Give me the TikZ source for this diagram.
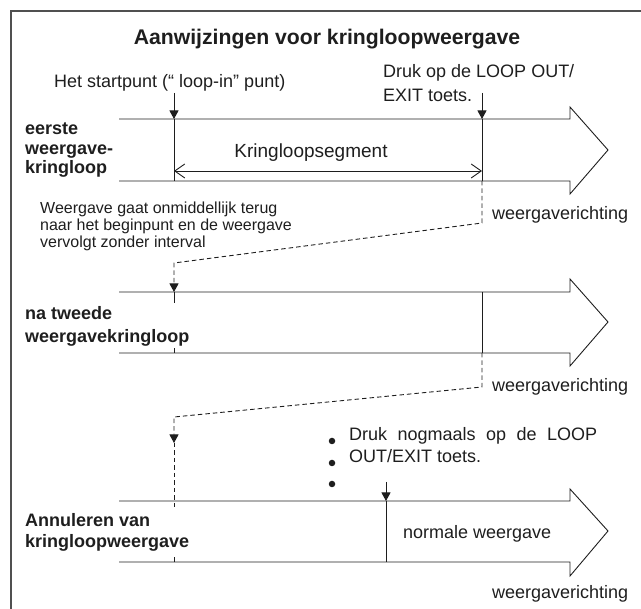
\documentclass[tikz,border=0pt]{standalone}
\usepackage{fontspec}
\setmainfont{Liberation Sans}
\usepackage{tikz}
\usetikzlibrary{arrows.meta, positioning, calc}
\definecolor{inkcolor}{RGB}{30,30,30}
\definecolor{framecolor}{RGB}{80,80,80}
\tikzset{
  flowarrow/.style={draw=inkcolor, line width=0.9pt},
  marker/.style={draw=inkcolor, line width=0.9pt},
  pointer/.style={-{Triangle[length=8.5pt, width=9pt]}, draw=inkcolor,
                  line width=0.9pt},
  jumpline/.style={draw=inkcolor, line width=0.9pt,
                   dash pattern=on 4.5pt off 3pt},
  segarrow/.style={{Straight Barb[length=10pt, width=14pt]}-{Straight Barb[length=10pt, width=14pt]},
                   draw=inkcolor, line width=0.9pt},
  rowlabel/.style={font=\bfseries\fontsize{18}{19.5}\selectfont, text=inkcolor,
                   align=left, anchor=base west, inner sep=0pt},
  note/.style={font=\fontsize{18}{24}\selectfont, text=inkcolor,
               align=left, anchor=base west, inner sep=0pt},
  smallnote/.style={font=\fontsize{16}{17}\selectfont, text=inkcolor,
                    align=left, anchor=base west, inner sep=0pt},
  dirlabel/.style={font=\fontsize{18}{20}\selectfont, text=inkcolor,
                   anchor=base west, inner sep=0pt},
  bulletdot/.style={circle, fill=inkcolor, inner sep=0pt, minimum size=6.5pt},
}

\begin{document}
\begin{tikzpicture}[x=1pt, y=-1pt]
  \useasboundingbox (0,0) rectangle (641,609);

  % Frame
  \draw[draw=framecolor, line width=1.2pt] (11,609) -- (11,11) -- (641,11);

  % Title
  \node[font=\bfseries\fontsize{21.2}{24}\selectfont, text=inkcolor,
        anchor=base, inner sep=0pt] (title) at (327,45)
    {Aanwijzingen voor kringloopweergave};

  % First playback loop (multi-line nodes sit on their last baseline)
  \draw[flowarrow] (119,119) -- (570,119) -- (570,107) -- (608,150)
    -- (570,194) -- (570,181) -- (119,181);
  \node[rowlabel] (first) at (25,174) {eerste\\weergave-\\kringloop};

  \node[note] (startpt) at (54,88) {Het startpunt (“ loop-in” punt)};
  \node[note] (press) at (383,102) {Druk op de LOOP OUT/\\EXIT toets.};

  \coordinate (inFrom) at (174,93);
  \coordinate (inTop) at (174,119);
  \coordinate (inBot) at (174,181);
  \coordinate (outFrom) at (482,93);
  \coordinate (outTop) at (482,119);
  \coordinate (outBot) at (482,181);
  \draw[pointer] (inFrom) -- (inTop);
  \draw[marker] (inTop) -- (inBot);
  \draw[pointer] (outFrom) -- (outTop);
  \draw[marker] (outTop) -- (outBot);

  \coordinate (segL) at (174,171);
  \coordinate (segR) at (482,171);
  \draw[segarrow] (segL) -- (segR);
  \node[note, anchor=base, font=\fontsize{19}{24}\selectfont] (seg) at (311,158)
    {Kringloopsegment};

  \node[smallnote] (jumpnote) at (40,248)
    {Weergave gaat onmiddellijk terug\\naar het beginpunt en de weergave\\vervolgt zonder interval};
  \node[dirlabel] (dirA) at (492,220) {weergaverichting};

  % Jump back to loop-in point
  \coordinate (bendA) at (482,223);
  \coordinate (bendB) at (174,263);
  \coordinate (inTop2) at (174,292);
  \draw[jumpline, -{Triangle[length=8.5pt, width=9pt]}]
    (outBot) -- (bendA) -- (bendB) -- (inTop2);

  % Second playback loop
  \draw[flowarrow] (119,292) -- (570,292) -- (570,279) -- (608,322)
    -- (570,366) -- (570,353) -- (119,353);
  \node[rowlabel, font=\bfseries\fontsize{18}{23}\selectfont] (second) at (25,343)
    {na tweede\\weergavekringloop};
  \coordinate (outTop2) at (482,292);
  \coordinate (outBot2) at (482,353);
  \draw[marker] (outTop2) -- (outBot2);
  \draw[marker] (inTop2) -- ++(0,11);
  \draw[marker] (174,353) -- ++(0,-5);
  \node[dirlabel] (dirB) at (492,392) {weergaverichting};

  % Jump back again
  \coordinate (bendC) at (482,387);
  \coordinate (bendD) at (174,417);
  \coordinate (jumpTip) at (174,443);
  \coordinate (jumpEnd) at (174,507);
  \draw[jumpline, -{Triangle[length=8.5pt, width=9pt]}]
    (outBot2) -- (bendC) -- (bendD) -- (jumpTip);
  \draw[jumpline] (jumpTip) -- (jumpEnd);

  % Cancel loop playback
  \draw[flowarrow] (119,501) -- (570,501) -- (570,489) -- (608,531)
    -- (570,576) -- (570,562) -- (119,562);
  \node[rowlabel, font=\bfseries\fontsize{18}{21}\selectfont] (third) at (25,548)
    {Annuleren van\\kringloopweergave};
  \draw[marker] (174,562) -- ++(0,-5);

  \node[bulletdot] (dotA) at (332,441) {};
  \node[bulletdot] (dotB) at (332,463) {};
  \node[bulletdot] (dotC) at (332,484) {};
  \node[note, font=\fontsize{18}{22}\selectfont] (pressagain) at (349,463)
    {\makebox[248pt][s]{Druk nogmaals op de LOOP}\\OUT/EXIT toets.};

  \coordinate (cancelFrom) at (386,482);
  \coordinate (cancelTop) at (386,501);
  \coordinate (cancelBot) at (386,562);
  \draw[pointer] (cancelFrom) -- (cancelTop);
  \draw[marker] (cancelTop) -- (cancelBot);

  \node[dirlabel] (normal) at (403,539) {normale weergave};
  \node[dirlabel] (dirC) at (492,599) {weergaverichting};
\end{tikzpicture}
\end{document}
